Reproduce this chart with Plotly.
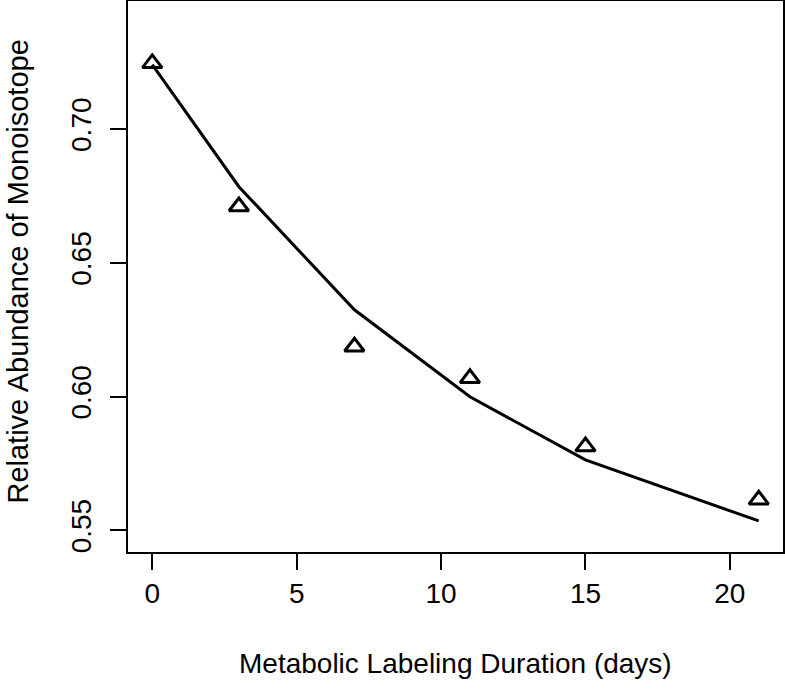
import plotly.graph_objects as go

days = [0, 3, 7, 11, 15, 21]
observed = [0.7245, 0.6710, 0.6186, 0.6068, 0.5813, 0.5614]
fitted = [0.7240, 0.6784, 0.6324, 0.5999, 0.5763, 0.5535]
x_ticks = [0, 5, 10, 15, 20]
y_ticks = [0.55, 0.60, 0.65, 0.70]
y_tick_labels = ["0.55", "0.60", "0.65", "0.70"]

FONT = "Liberation Sans, Arial, Helvetica, sans-serif"
FS = 28

fig = go.Figure()
fig.add_trace(go.Scatter(
    x=days, y=fitted, mode="lines",
    line=dict(color="black", width=3),
    showlegend=False, hoverinfo="skip",
))
fig.add_trace(go.Scatter(
    x=days, y=observed, mode="markers",
    marker=dict(symbol="triangle-up-open", size=17, color="black",
                line=dict(color="black", width=3)),
    showlegend=False,
))

fig.update_layout(
    width=785, height=692,
    margin=dict(l=128, r=2, t=1, b=140),
    paper_bgcolor="white", plot_bgcolor="white",
    font=dict(family=FONT, size=FS, color="black"),
    xaxis=dict(
        range=[-0.84, 21.84], tickvals=x_ticks, automargin=False,
        ticks="outside", ticklen=16, tickwidth=1.5, tickcolor="black",
        showline=True, linecolor="black", linewidth=1.5, mirror=True,
        showgrid=False, zeroline=False,
        tickfont=dict(size=FS, family=FONT, color="black"),
        ticklabelstandoff=0,
    ),
    yaxis=dict(
        range=[0.5419, 0.7478], tickvals=y_ticks, ticktext=y_tick_labels,
        automargin=False,
        ticks="outside", ticklen=16, tickwidth=1.5, tickcolor="black",
        showline=True, linecolor="black", linewidth=1.5, mirror=True,
        showgrid=False, zeroline=False, tickangle=-90,
        tickfont=dict(size=FS, family=FONT, color="black"),
        ticklabelstandoff=8,
    ),
    annotations=[
        dict(text="Metabolic Labeling Duration (days)", xref="paper", yref="paper",
             x=0.5, y=0, yshift=-111, xanchor="center", yanchor="middle",
             showarrow=False, font=dict(size=FS, family=FONT, color="black")),
        dict(text="Relative Abundance of Monoisotope", xref="paper", yref="paper",
             x=0, y=0.509, xshift=-110, xanchor="center", yanchor="middle",
             textangle=-90, showarrow=False,
             font=dict(size=29, family=FONT, color="black")),
    ],
)

fig.write_html(
    "out.html",
    config={"displayModeBar": False},
    post_script="document.body.style.margin='0';document.body.style.overflow='hidden';",
)
